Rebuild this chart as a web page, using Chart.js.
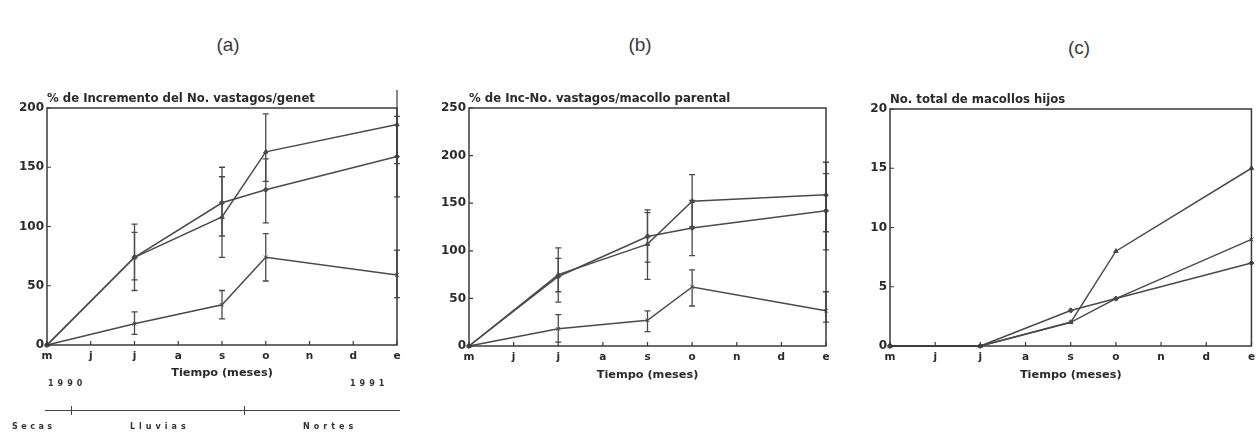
<!DOCTYPE html>
<html>
<head>
<meta charset="utf-8">
<script src="https://cdn.jsdelivr.net/npm/chart.js@4.4.1/dist/chart.umd.min.js"></script>
<style>
  html, body { margin:0; padding:0; background:#fff; }
  body { width:1260px; height:432px; position:relative; overflow:hidden; font-family:"DejaVu Sans", sans-serif; color:#2a2a2a; }
  .cv { position:absolute; }
  .lbl { position:absolute; white-space:nowrap; }
  .panel { font-family:"Liberation Sans", sans-serif; font-size:19px; color:#3a3a3a; transform:translate(-50%,-50%); }
  .sp { font-family:"DejaVu Sans", sans-serif; font-weight:bold; font-size:8px; color:#333; transform:translateY(-50%); }
</style>
</head>
<body>
<div class="lbl panel" style="left:228px;top:45px;">(a)</div>
<div class="lbl panel" style="left:640px;top:45px;">(b)</div>
<div class="lbl panel" style="left:1079px;top:48px;">(c)</div>

<div class="cv" style="left:0px;top:90px;"><canvas id="ca" width="410" height="300"></canvas></div>
<div class="cv" style="left:420px;top:90px;"><canvas id="cb" width="420" height="300"></canvas></div>
<div class="cv" style="left:840px;top:90px;"><canvas id="cc" width="420" height="300"></canvas></div>

<div class="lbl sp" style="left:48px;top:383px;letter-spacing:4px;">1990</div>
<div class="lbl sp" style="left:350px;top:383px;letter-spacing:4px;">1991</div>
<div style="position:absolute;left:45px;top:410px;width:355px;height:0;border-top:1.5px solid #444;"></div>
<div style="position:absolute;left:71px;top:406px;width:0;height:9px;border-left:1.5px solid #444;"></div>
<div style="position:absolute;left:244px;top:406px;width:0;height:9px;border-left:1.5px solid #444;"></div>
<div class="lbl sp" style="left:12px;top:426px;letter-spacing:3.5px;">Secas</div>
<div class="lbl sp" style="left:130px;top:426px;letter-spacing:4px;">Lluvias</div>
<div class="lbl sp" style="left:303px;top:426px;letter-spacing:4px;">Nortes</div>

<script>
// ---------- data ----------
const months = ['m','j','j','a','s','o','n','d','e'];

// panel (a): % de incremento del No. vastagos/genet
const aSerie1   = [0, null, 74, null, 108, 163, null, null, 186];
const aSerie1Lo = [0, null, 46, null, 74, 138, null, null, 153];
const aSerie1Hi = [0, null, 102, null, 142, 195, null, null, 224];
const aSerie2   = [0, null, 74, null, 120, 131, null, null, 159];
const aSerie2Lo = [0, null, 55, null, 92, 103, null, null, 125];
const aSerie2Hi = [0, null, 95, null, 150, 157, null, null, 193];
const aSerie3   = [0, null, 18, null, 34, 74, null, null, 59];
const aSerie3Lo = [0, null, 9, null, 22, 54, null, null, 40];
const aSerie3Hi = [0, null, 28, null, 46, 94, null, null, 80];
const aTicks = [0, 50, 100, 150, 200];

// panel (b): % de inc-No. vastagos/macollo parental
const bSerie1   = [0, null, 75, null, 107, 152, null, null, 159];
const bSerie1Lo = [0, null, 46, null, 70, 125, null, null, 120];
const bSerie1Hi = [0, null, 103, null, 143, 180, null, null, 193];
const bSerie2   = [0, null, 73, null, 115, 124, null, null, 142];
const bSerie2Lo = [0, null, 57, null, 88, 95, null, null, 101];
const bSerie2Hi = [0, null, 92, null, 140, 153, null, null, 181];
const bSerie3   = [0, null, 18, null, 27, 62, null, null, 37];
const bSerie3Lo = [0, null, 4, null, 15, 42, null, null, 25];
const bSerie3Hi = [0, null, 33, null, 37, 80, null, null, 57];
const bTicks = [0, 50, 100, 150, 200, 250];

// panel (c): No. total de macollos hijos
const cSerie1 = [0, null, 0, null, 2, 8, null, null, 15];
const cSerie2 = [0, null, 0, null, 3, 4, null, null, 7];
const cSerie3 = [0, null, 0, null, 2, 4, null, null, 9];
const cTicks = [0, 5, 10, 15, 20];

// ---------- style ----------
const LINE = '#4a4a4a';
const TXT = '#2a2a2a';
const FONT = '"DejaVu Sans", sans-serif';

const decor = {
  id: 'decor',
  afterDatasetsDraw(chart) {
    const ctx = chart.ctx;
    const x = chart.scales.x, y = chart.scales.y;
    ctx.save();
    ctx.strokeStyle = LINE;
    ctx.lineWidth = 1.3;
    chart.data.datasets.forEach((ds) => {
      if (!ds.errLo) return;
      ds.data.forEach((v, i) => {
        if (v === null || ds.errLo[i] === null || ds.errLo[i] === ds.errHi[i]) return;
        const px = x.getPixelForValue(i);
        const y1 = y.getPixelForValue(ds.errLo[i]);
        const y2 = y.getPixelForValue(ds.errHi[i]);
        ctx.beginPath();
        ctx.moveTo(px, y1); ctx.lineTo(px, y2);
        ctx.moveTo(px - 3, y1); ctx.lineTo(px + 3, y1);
        ctx.moveTo(px - 3, y2); ctx.lineTo(px + 3, y2);
        ctx.stroke();
      });
    });
    ctx.restore();
  },
  afterDraw(chart, args, opts) {
    const ctx = chart.ctx;
    const a = chart.chartArea;
    const x = chart.scales.x, y = chart.scales.y;
    ctx.save();
    ctx.strokeStyle = '#3a3a3a';
    ctx.lineWidth = 1.5;
    ctx.strokeRect(a.left, a.top, a.right - a.left, a.bottom - a.top);
    ctx.lineWidth = 1.2;
    ctx.beginPath();
    for (let i = 0; i < months.length; i++) {
      const px = x.getPixelForValue(i);
      ctx.moveTo(px, a.bottom); ctx.lineTo(px, a.bottom - 4);
    }
    y.ticks.forEach(t => {
      const py = y.getPixelForValue(t.value);
      ctx.moveTo(a.left, py); ctx.lineTo(a.left + 4, py);
    });
    ctx.stroke();
    ctx.fillStyle = TXT;
    ctx.font = 'bold 11.7px ' + FONT;
    ctx.textBaseline = 'alphabetic';
    ctx.textAlign = 'left';
    ctx.fillText(opts.text, a.left, a.top - 6);
    ctx.restore();
  }
};

function ds(label, data, lo, hi, style) {
  const d = {
    label, data, spanGaps: true,
    borderColor: LINE, backgroundColor: LINE,
    borderWidth: 1.5, pointStyle: style, pointRadius: 2.6,
    pointBorderWidth: 1, tension: 0, clip: false
  };
  if (lo) { d.errLo = lo; d.errHi = hi; }
  return d;
}

function makeChart(id, datasets, ticks, title, pad, yW, xH, titlePadBottom) {
  const maxV = ticks[ticks.length - 1];
  const step = ticks[1] - ticks[0];
  return new Chart(document.getElementById(id), {
    type: 'line',
    data: { labels: months, datasets },
    options: {
      responsive: false, animation: false,
      layout: { padding: pad },
      plugins: { legend: { display: false }, tooltip: { enabled: false }, decor: { text: title } },
      scales: {
        x: {
          type: 'category', offset: false,
          grid: { display: false, drawTicks: false },
          border: { display: false },
          ticks: { color: TXT, font: { family: FONT, size: 10.5, weight: 'bold' }, padding: 5, autoSkip: false, maxRotation: 0 },
          title: { display: true, text: 'Tiempo (meses)', color: TXT, font: { family: FONT, size: 11.3, weight: 'bold' }, padding: { top: 0, bottom: titlePadBottom } },
          afterFit(s) { s.height = xH; }
        },
        y: {
          min: 0, max: maxV,
          grid: { display: false, drawTicks: false },
          border: { display: false },
          ticks: { stepSize: step, color: TXT, font: { family: FONT, size: 12, weight: 'bold' }, padding: 3 },
          afterFit(s) { s.width = yW; }
        }
      }
    },
    plugins: [decor]
  });
}

makeChart('ca', [
  ds('serie 1', aSerie1, aSerie1Lo, aSerie1Hi, 'triangle'),
  ds('serie 2', aSerie2, aSerie2Lo, aSerie2Hi, 'rectRot'),
  ds('serie 3', aSerie3, aSerie3Lo, aSerie3Hi, 'crossRot')
], aTicks, '% de Incremento del No. vastagos/genet', { left: 0, top: 18, right: 13, bottom: 0 }, 47, 45, 10);

makeChart('cb', [
  ds('serie 1', bSerie1, bSerie1Lo, bSerie1Hi, 'triangle'),
  ds('serie 2', bSerie2, bSerie2Lo, bSerie2Hi, 'rectRot'),
  ds('serie 3', bSerie3, bSerie3Lo, bSerie3Hi, 'crossRot')
], bTicks, '% de Inc-No. vastagos/macollo parental', { left: 0, top: 18, right: 14, bottom: 0 }, 49, 44, 8);

makeChart('cc', [
  ds('serie 1', cSerie1, null, null, 'triangle'),
  ds('serie 2', cSerie2, null, null, 'rectRot'),
  ds('serie 3', cSerie3, null, null, 'crossRot')
], cTicks, 'No. total de macollos hijos', { left: 0, top: 19, right: 5, bottom: 0 }, 50, 44, 8);
</script>
</body>
</html>
